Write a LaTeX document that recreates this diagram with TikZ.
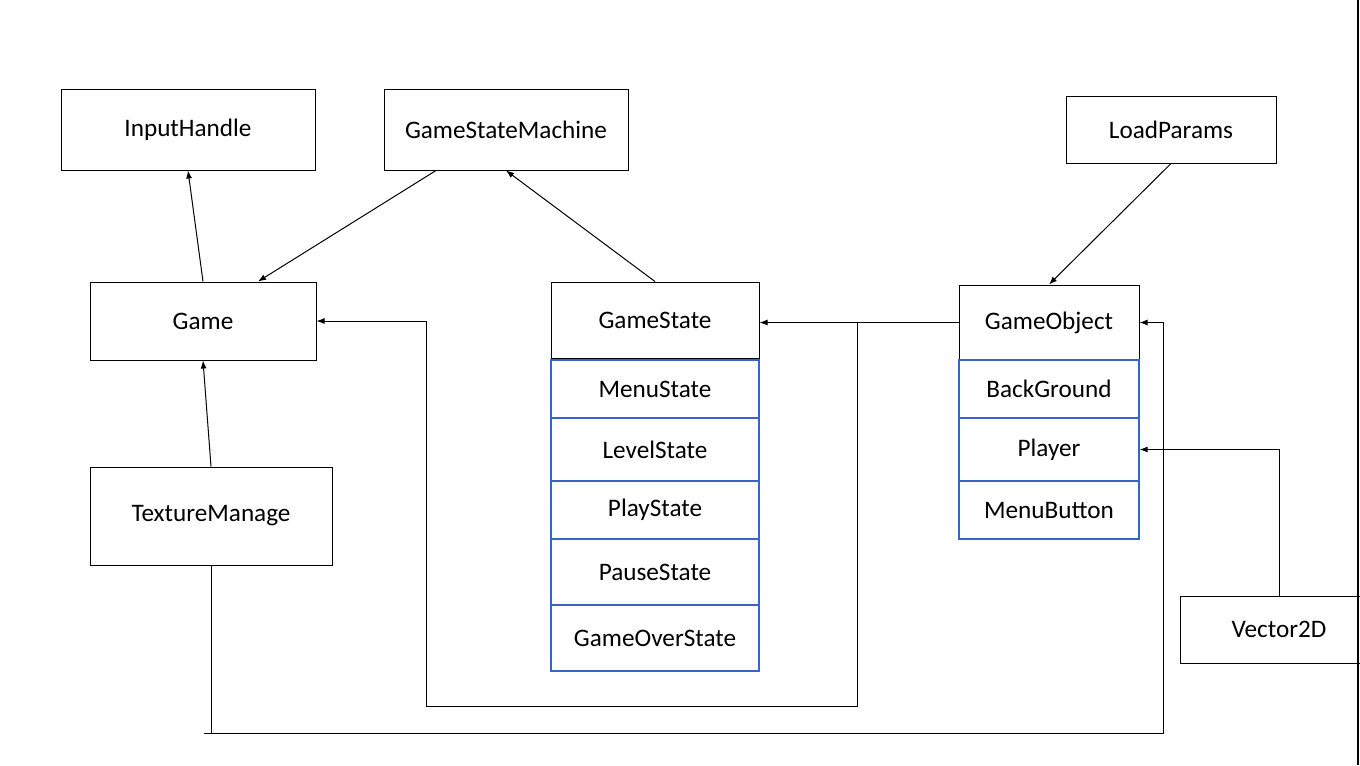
\documentclass[tikz,border=0pt]{standalone}
\usepackage{fontspec}
\setmainfont{Carlito}
\usetikzlibrary{arrows.meta}
\definecolor{boxblue}{RGB}{55,100,200}
\begin{document}
\begin{tikzpicture}[x=0.75pt,y=-0.75pt,
  cls/.style={draw,line width=0.75pt,inner sep=0pt,font=\fontsize{18.9}{22}\selectfont},
  sub/.style={cls,draw=boxblue,line width=0.9pt,minimum width=156pt},
  arr/.style={-{Latex[length=6pt,width=4.5pt]},line width=0.75pt}]
\clip (0,0) rectangle (1360,765);
\node[cls,minimum width=190.5pt,minimum height=60.75pt](input) at (188,129.5) {InputHandle};
\node[cls,minimum width=183pt,minimum height=60.75pt](gsm) at (506,129.5) {GameStateMachine};
\node[cls,minimum width=157.5pt,minimum height=50.25pt](lp) at (1171,129.5) {LoadParams};
\node[cls,minimum width=169.5pt,minimum height=58.5pt](game) at (203,321) {Game};
\node[cls,minimum width=181.5pt,minimum height=73.5pt](tm) at (211,516) {TextureManage};
\node[cls,minimum width=156pt,minimum height=57pt](gstate) at (655,320) {GameState};
\node[cls,minimum width=135pt,minimum height=56.25pt](gobj) at (1049,322.5) {GameObject};
\node[cls,minimum width=148.5pt,minimum height=50.25pt](v2d) at (1279,629.5) {Vector2D};
\foreach \n/\y/\h/\t in {menu/389/43.5/MenuState,level/449.5/47.25/LevelState,
  play/510/43.5/PlayState,pause/572/49.5/PauseState,over/638/49.5/GameOverState}
\node[sub,minimum height=\h pt](\n) at (655,\y) {\t};
\foreach \n/\y/\h/\t in {bg/389/43.5/BackGround,player/449.5/47.25/Player,button/510/43.5/MenuButton}
\node[sub,minimum width=135pt,minimum height=\h pt](\n) at (1049,\y) {\t};
\coordinate (j) at (857,322.5);
\coordinate (jb) at (426,706);
\coordinate (botl) at (204,733);
\coordinate (botr) at (1163,733);
\draw[arr] (game.north)--(input.south);
\draw[arr] ([xshift=-52.5pt]gsm.south)--([xshift=41.25pt]game.north);
\draw[arr] (gstate.north)--(gsm.south);
\draw[arr] (lp.south)--(gobj.north);
\draw[arr] (tm.north)--(game.south);
\draw[arr] (gobj.west)--(gobj.west -| gstate.east);
\draw[arr] (j) |- (jb) |- (game.east);
\draw (tm.south)--(tm.south |- botl);
\draw[arr] (botl)--(botr) |- (gobj.east);
\draw[arr] (v2d.north) |- (player.east);
\draw[line width=1.5pt] (1358,0)--(1358,765);
\end{tikzpicture}
\end{document}
